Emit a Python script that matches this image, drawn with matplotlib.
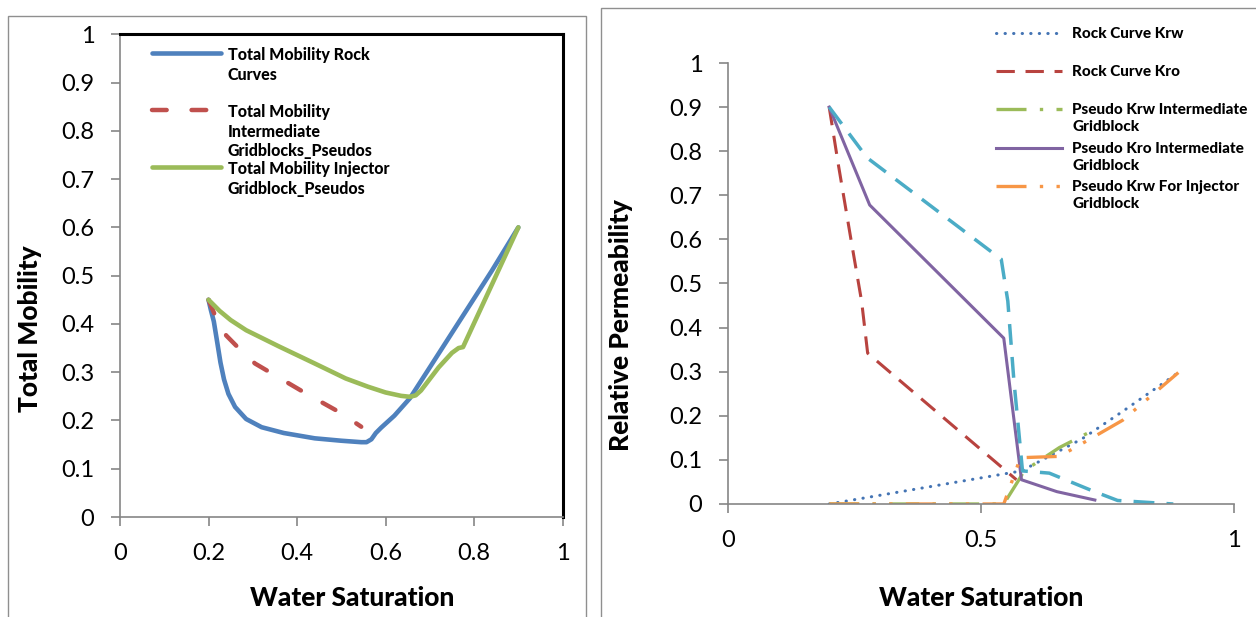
# -*- coding: utf-8 -*-
"""
Total mobility and relative permeability vs water saturation
Rock curves vs pseudo curves (intermediate / injector gridblocks)
"""

import numpy as np
import matplotlib
matplotlib.use("Agg")
import matplotlib.pyplot as plt
from matplotlib.lines import Line2D
from matplotlib.patches import Rectangle
from matplotlib.ticker import FuncFormatter, MultipleLocator

plt.rcParams["font.family"] = ["Lato", "DejaVu Sans"]

# ======================================================
# DATA - LEFT PANEL (TOTAL MOBILITY)
# ======================================================
sw_rock = [0.2, 0.205, 0.212, 0.22, 0.227, 0.235, 0.245, 0.26, 0.285, 0.32,
           0.37, 0.44, 0.5, 0.545, 0.557, 0.568, 0.578, 0.59, 0.62, 0.655,
           0.7, 0.77, 0.84, 0.9]
mob_rock = [0.45, 0.43, 0.405, 0.36, 0.32, 0.285, 0.255, 0.228, 0.203, 0.186,
            0.174, 0.163, 0.158, 0.155, 0.155, 0.161, 0.174, 0.185, 0.21, 0.246,
            0.31, 0.41, 0.51, 0.6]

sw_inter = [0.2, 0.215, 0.24, 0.27, 0.305, 0.42, 0.5, 0.545]
mob_inter = [0.45, 0.417, 0.376, 0.348, 0.318, 0.256, 0.215, 0.187]

sw_inj = [0.2, 0.225, 0.25, 0.285, 0.36, 0.44, 0.51, 0.56, 0.6, 0.635, 0.655,
          0.668, 0.68, 0.72, 0.75, 0.765, 0.775, 0.9]
mob_inj = [0.45, 0.427, 0.408, 0.387, 0.353, 0.318, 0.287, 0.27, 0.258, 0.251,
           0.249, 0.252, 0.262, 0.31, 0.34, 0.35, 0.352, 0.6]

# ======================================================
# DATA - RIGHT PANEL (RELATIVE PERMEABILITY)
# ======================================================
sw_krw_rock = [0.2, 0.58, 0.7, 0.78, 0.89]
krw_rock = [0.0, 0.075, 0.148, 0.21, 0.298]

sw_kro_rock = [0.2, 0.218, 0.243, 0.264, 0.276, 0.57]
kro_rock = [0.9, 0.77, 0.6, 0.46, 0.342, 0.055]

sw_krw_int = [0.2, 0.545, 0.575, 0.585, 0.655, 0.73]
krw_int = [0.0, 0.0, 0.055, 0.075, 0.128, 0.172]

sw_kro_int = [0.2, 0.28, 0.545, 0.58, 0.65, 0.725]
kro_int = [0.9, 0.678, 0.376, 0.055, 0.028, 0.009]

sw_krw_inj = [0.2, 0.545, 0.578, 0.655, 0.715, 0.78, 0.89]
krw_inj = [0.0, 0.0, 0.105, 0.108, 0.147, 0.19, 0.298]

sw_kro_inj = [0.2, 0.275, 0.54, 0.553, 0.565, 0.575, 0.582, 0.635, 0.72, 0.77, 0.88]
kro_inj = [0.9, 0.785, 0.555, 0.46, 0.28, 0.16, 0.075, 0.07, 0.03, 0.008, 0.0]

left_labels = ["Total Mobility Rock\nCurves",
               "Total Mobility\nIntermediate\nGridblocks_Pseudos",
               "Total Mobility Injector\nGridblock_Pseudos"]
right_labels = ["Rock Curve Krw", "Rock Curve Kro",
                "Pseudo Krw Intermediate\nGridblock",
                "Pseudo Kro Intermediate\nGridblock",
                "Pseudo Krw For Injector\nGridblock"]

# ======================================================
# STYLE
# ======================================================
BLUE = "#4F81BD"
RED = "#C0504D"
GREEN = "#9BBB59"
PURPLE = "#8064A2"
AQUA = "#4BACC6"
ORANGE = "#F79646"
GRAY = "#868686"

W, H = 1256, 617
tick_fs = 17
title_fs = 19
BOLD = 900


def fmt(v, _):
    return "%g" % round(v, 2)


def style_axis(ax):
    for s in ("left", "bottom"):
        ax.spines[s].set_color(GRAY)
        ax.spines[s].set_linewidth(1.2)
    ax.tick_params(direction="out", length=6.5, width=1.2, color=GRAY,
                   labelsize=tick_fs, pad=12, top=False, right=False)
    ax.xaxis.set_major_formatter(FuncFormatter(fmt))
    ax.yaxis.set_major_formatter(FuncFormatter(fmt))


def draw_legend(ax, entries, x0, x1, xt, ys, fs, dy):
    # legend keys, handle aligned with the first text line (Excel style)
    for (kw, label), y in zip(entries, ys):
        ax.add_line(Line2D([x0, x1], [y, y], transform=ax.transAxes,
                           clip_on=False, **kw))
        ax.text(xt, y + dy, label, transform=ax.transAxes, fontsize=fs,
                fontweight=BOLD, va="top", ha="left",
                linespacing=1.27)


fig = plt.figure(figsize=(W / 100, H / 100), dpi=100)

# panel frames
fig.add_artist(Rectangle((7.7 / W, -0.02), (585.5 - 7.7) / W, (617 - 15.7) / H + 0.02,
                         transform=fig.transFigure, fill=False,
                         edgecolor="#8f8f8f", lw=1.0))
fig.add_artist(Rectangle((600.5 / W, -0.02), 0.6, (617 - 8) / H + 0.02,
                         transform=fig.transFigure, fill=False,
                         edgecolor="#8f8f8f", lw=1.0))

# ======================================================
# LEFT PANEL
# ======================================================
ax1 = fig.add_axes([120 / W, 1 - 517 / H, 442.6 / W, 482.7 / H])
style_axis(ax1)
for s in ("top", "right"):
    ax1.spines[s].set_color("black")
    ax1.spines[s].set_linewidth(2.2)

kw_rock = dict(color=BLUE, lw=3.3, solid_capstyle="round", solid_joinstyle="round")
kw_inter = dict(color=RED, lw=3.2, linestyle=(0, (3.3, 5.6)), dash_capstyle="round")
kw_inj = dict(color=GREEN, lw=3.3, solid_capstyle="round", solid_joinstyle="round")

ax1.plot(sw_rock, mob_rock, **kw_rock)
ax1.plot(sw_inter, mob_inter, **kw_inter)
ax1.plot(sw_inj, mob_inj, **kw_inj)

ax1.set_xlim(0, 1)
ax1.set_ylim(0, 1)
ax1.xaxis.set_major_locator(MultipleLocator(0.2))
ax1.yaxis.set_major_locator(MultipleLocator(0.1))

ax1.set_xlabel("Water Saturation", fontsize=title_fs, fontweight=BOLD)
ax1.set_ylabel("Total Mobility", fontsize=title_fs, fontweight=BOLD)
ax1.xaxis.set_label_coords(0.524, -0.143)
ax1.yaxis.set_label_coords(-0.176, 0.391)

draw_legend(ax1,
            [(kw_rock, left_labels[0]), (kw_inter, left_labels[1]), (kw_inj, left_labels[2])],
            0.072, 0.228, 0.244, [0.961, 0.843, 0.725], 11.5, 0.0125)

# ======================================================
# RIGHT PANEL
# ======================================================
ax2 = fig.add_axes([728 / W, 1 - 504 / H, 506 / W, 441 / H])
style_axis(ax2)
for s in ("top", "right"):
    ax2.spines[s].set_visible(False)

kw_krw_rock = dict(color="#4474B4", lw=2.2, linestyle=(0, (0.1, 2.7)), dash_capstyle="round")
kw_kro_rock = dict(color="#B8433F", lw=2.2, linestyle=(0, (6.0, 3.5)))
kw_krw_int = dict(color=GREEN, lw=2.4, linestyle=(0, (9.0, 4.0, 1.0, 4.0)))
kw_kro_int = dict(color=PURPLE, lw=2.2, solid_joinstyle="round")
kw_krw_inj = dict(color=ORANGE, lw=2.4, linestyle=(0, (9.0, 4.0, 1.0, 4.0, 1.0, 4.0)))
kw_kro_inj = dict(color=AQUA, lw=2.5, linestyle=(0, (6.0, 3.5)))

ax2.plot(sw_krw_rock, krw_rock, **kw_krw_rock)
ax2.plot(sw_kro_rock, kro_rock, **kw_kro_rock)
ax2.plot(sw_krw_int, krw_int, **kw_krw_int)
ax2.plot(sw_kro_int, kro_int, **kw_kro_int)
ax2.plot(sw_krw_inj, krw_inj, **kw_krw_inj)
ax2.plot(sw_kro_inj, kro_inj, **kw_kro_inj)

ax2.set_xlim(0, 1)
ax2.set_ylim(0, 1)
ax2.xaxis.set_major_locator(MultipleLocator(0.5))
ax2.yaxis.set_major_locator(MultipleLocator(0.1))

ax2.set_xlabel("Water Saturation", fontsize=title_fs, fontweight=BOLD)
ax2.set_ylabel("Relative Permeability", fontsize=title_fs, fontweight=BOLD)
ax2.xaxis.set_label_coords(0.5, -0.186)
ax2.yaxis.set_label_coords(-0.188, 0.405)

draw_legend(ax2,
            [(kw_krw_rock, right_labels[0]), (kw_kro_rock, right_labels[1]),
             (kw_krw_int, right_labels[2]), (kw_kro_int, right_labels[3]),
             (kw_krw_inj, right_labels[4])],
            0.529, 0.66, 0.68, [1.068, 0.982, 0.896, 0.807, 0.721], 11, 0.013)

fig.savefig("out.png", dpi=100)
